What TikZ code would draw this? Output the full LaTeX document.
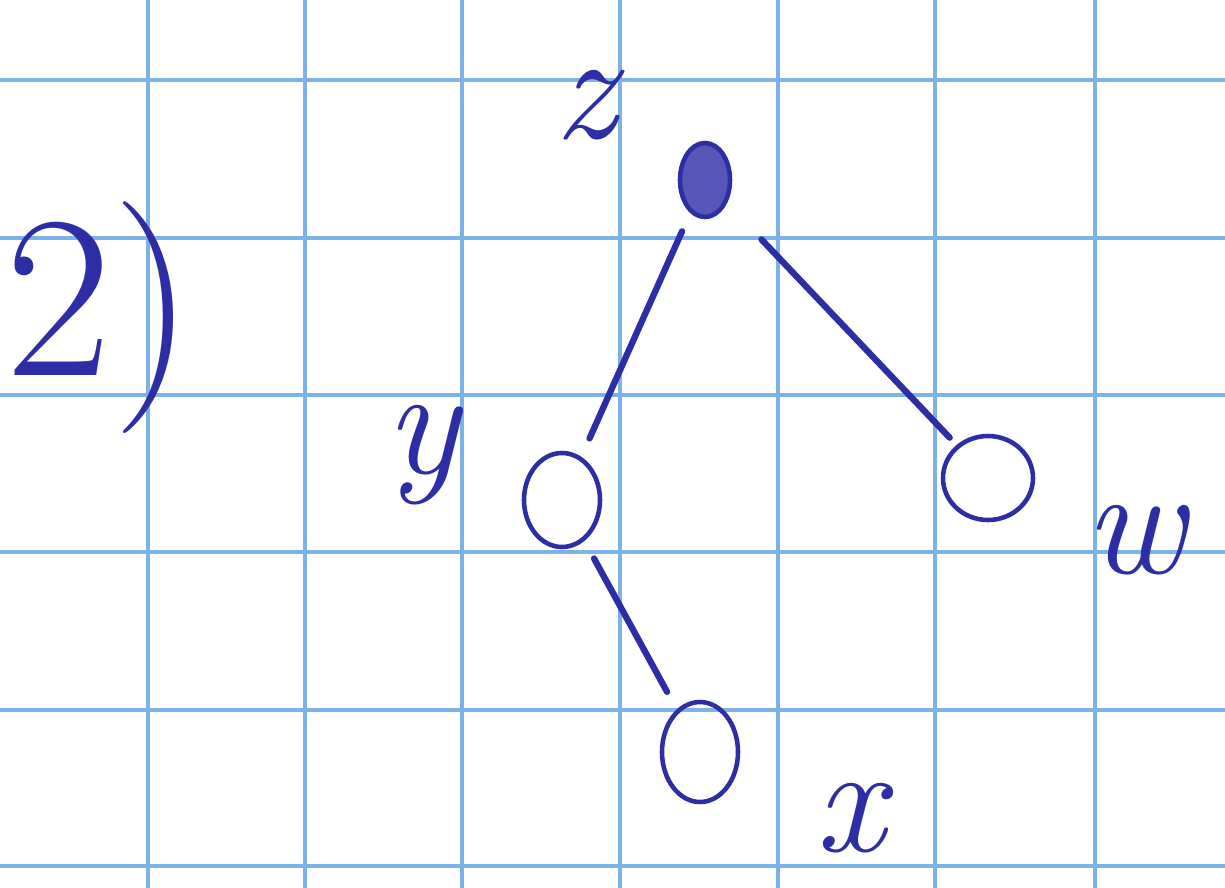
\documentclass[tikz,border=0pt]{standalone}
\usepackage{tikz}
\usetikzlibrary{shapes.geometric}
\definecolor{gridblue}{RGB}{125,178,232}
\definecolor{inkblue}{RGB}{45,45,165}
\tikzset{
  grd/.style  ={draw=gridblue, line width=1.3pt},
  vtx/.style  ={ellipse, draw=inkblue, line width=1.3pt, inner sep=0pt},
  edg/.style  ={draw=inkblue, line width=1.8pt, line cap=round, shorten <=2mm, shorten >=2mm},
  lab/.style  ={text=inkblue, font=\fontsize{44}{44}\selectfont\itshape, inner sep=0pt},
}
\begin{document}
\begin{tikzpicture}[x=0.1mm,y=-0.1mm]
  \useasboundingbox (0,0) rectangle (1225,888);
  \fill[white] (0,0) rectangle (1225,888);
  % squared paper
  \draw[grd] (148,0) -- (148,888);
  \draw[grd] (305,0) -- (305,888);
  \draw[grd] (462,0) -- (462,888);
  \draw[grd] (620,0) -- (620,888);
  \draw[grd] (778,0) -- (778,888);
  \draw[grd] (935,0) -- (935,888);
  \draw[grd] (1095,0) -- (1095,888);
  \draw[grd] (0,80) -- (1225,80);
  \draw[grd] (0,238) -- (1225,238);
  \draw[grd] (0,395) -- (1225,395);
  \draw[grd] (0,552) -- (1225,552);
  \draw[grd] (0,710) -- (1225,710);
  \draw[grd] (0,866) -- (1225,866);
  % exercise number
  \node[text=inkblue, font=\fontsize{66}{66}\selectfont, inner sep=0pt] (num) at (100,318) {2)};
  % tree
  \node[vtx, fill=inkblue!80, minimum width=5mm, minimum height=7.4mm] (z) at (705,180) {};
  \node[vtx, minimum width=7.6mm, minimum height=9.4mm] (y) at (562,500) {};
  \node[vtx, minimum width=9mm, minimum height=8.4mm] (w) at (988,478) {};
  \node[vtx, minimum width=7.6mm, minimum height=10mm] (x) at (700,752) {};
  \draw[edg] (z) -- (y);
  \draw[edg, shorten <=5mm, shorten >=1mm] (z) -- (w);
  \draw[edg] (y) -- (x);
  % vertex names
  \node[lab] (zl) at (585,105) {z};
  \node[lab] (yl) at (422,455) {y};
  \node[lab] (wl) at (1135,540) {w};
  \node[lab] (xl) at (850,818) {x};
\end{tikzpicture}
\end{document}
